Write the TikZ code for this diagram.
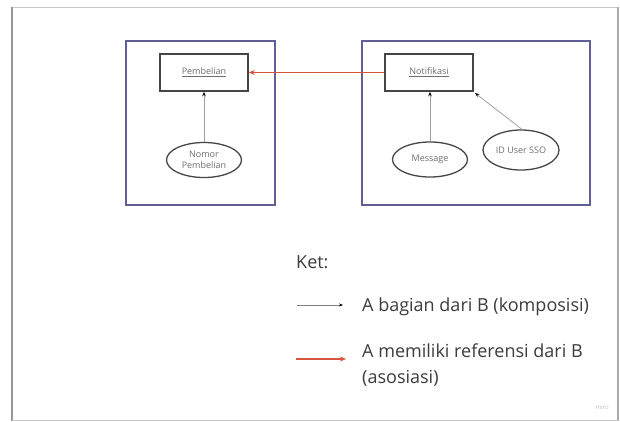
\documentclass[tikz,border=0pt]{standalone}
\usepackage{fontspec}
\setmainfont{Open Sans}
\usetikzlibrary{arrows.meta,shapes.geometric}
\definecolor{framegray}{RGB}{150,150,150}
\definecolor{boxblue}{RGB}{95,95,150}
\definecolor{edgegray}{RGB}{70,70,70}
\definecolor{linkgray}{RGB}{160,160,160}
\definecolor{labelgray}{RGB}{110,110,110}
\definecolor{assocred}{RGB}{215,85,60}
\definecolor{legendtext}{RGB}{60,60,60}
\tikzset{
  entity/.style={draw=edgegray, line width=1.5pt, minimum width=88pt, minimum height=37pt,
    inner sep=0pt, font=\fontsize{9}{10}\selectfont, text=labelgray},
  attr/.style={ellipse, draw=edgegray, line width=1.3pt, inner sep=0pt,
    font=\fontsize{9}{11}\selectfont, text=labelgray, align=center},
  group/.style={draw=boxblue, line width=1.2pt},
  compose/.style={draw=linkgray, line width=0.8pt, -{Stealth[length=4.5pt,width=3.5pt,black]}},
  assoc/.style={draw=assocred, line width=1.1pt, -{Stealth[length=6pt,width=5pt]}},
  legend/.style={font=\fontsize{18}{26}\selectfont, text=legendtext, anchor=base west, inner sep=0pt, align=left}
}
\begin{document}
\begin{tikzpicture}[x=1pt,y=-1pt]
\useasboundingbox (0,0) rectangle (620,421);
\fill[white] (0,0) rectangle (620,421);
% page frame
\draw[framegray!50, line width=1pt] (12,7) -- (618,7);
\draw[framegray, line width=1.5pt] (12,7) -- (12,421);
\draw[framegray!80, line width=1.2pt] (618,7) -- (618,421);
\draw[framegray!50, line width=1pt] (12,420) -- (618,420);
% grouping boxes
\draw[group] (126,41) rectangle (275,205);
\draw[group] (362,41) rectangle (590,205);
% entities
\node[entity] (pemb) at (204,72.5) {\underline{Pembelian}};
\node[entity] (notif) at (429,72.5) {\underline{Notifikasi}};
% attributes
\node[attr, minimum width=75pt, minimum height=35pt] (nomor) at (204,160) {Nomor\\Pembelian};
\node[attr, minimum width=75pt, minimum height=35pt] (msg) at (430,159.5) {Message};
\node[attr, minimum width=76pt, minimum height=40pt] (sso) at (521,150) {ID User SSO};
% connectors
\draw[compose] (nomor.north) -- (pemb.south);
\draw[compose] (msg.north) -- (msg.north |- notif.south);
\coordinate (ssoend) at (475,93);
\draw[compose] (sso.north) ++(1,0) -- (ssoend);
\draw[assoc] (notif.west) -- (pemb.east);
% legend
\node[legend] (ket) at (296,268) {Ket:};
\coordinate (k1a) at (297,305);
\coordinate (k1b) at (343,305);
\draw[draw=linkgray!80!black, line width=0.8pt, -{Stealth[length=4pt,width=3pt,black]}] (k1a) -- (k1b);
\node[legend] (komp) at (362,311.5) {A bagian dari B (komposisi)};
\coordinate (k2a) at (296,359);
\coordinate (k2b) at (346,359);
\draw[assoc] (k2a) -- (k2b);
% base anchor of a two-line node sits on its last line
\node[legend] (asos) at (362,383) {A memiliki referensi dari B\\(asosiasi)};
\node[font=\fontsize{6}{7}\selectfont, text=black!25, anchor=east, inner sep=0pt] (miro) at (609,407) {miro};
\end{tikzpicture}
\end{document}
